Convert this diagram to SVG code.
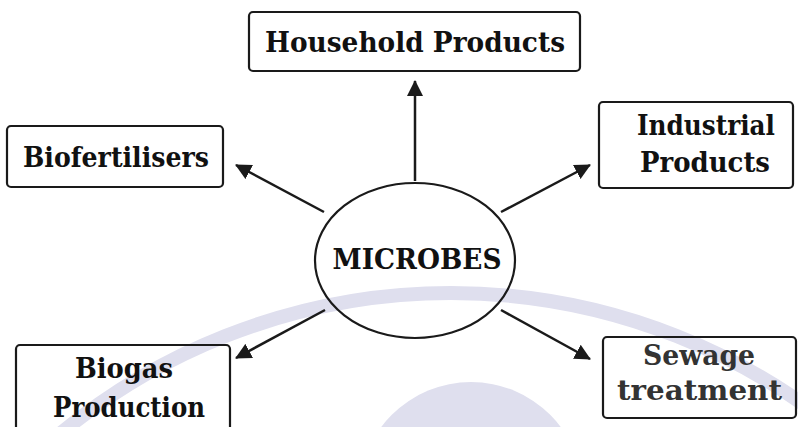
<svg xmlns="http://www.w3.org/2000/svg" width="798" height="427" viewBox="0 0 798 427">
<style>
.box{fill:none;stroke:#1a1a1a;stroke-width:2.2}
.lbl{font-family:"DejaVu Serif","Liberation Serif",serif;font-weight:bold;font-size:28px;fill:#111;text-anchor:middle}
.con{stroke:#1a1a1a;stroke-width:2.5;fill:none;marker-end:url(#ah)}
.wm{fill:none;stroke:#dfdfee;stroke-width:14}
</style>
<defs>
<marker id="ah" markerUnits="userSpaceOnUse" markerWidth="16" markerHeight="16" refX="15" refY="8" orient="auto">
<path d="M0,0 L16,8 L0,16 z" fill="#1a1a1a"/>
</marker>
</defs>
<rect width="798" height="427" fill="#fff"/>
<g id="watermark">
<circle class="wm" cx="451" cy="906" r="613"/>
<circle cx="471" cy="494" r="112" fill="#dfdfee"/>
</g>
<g id="connectors">
<line class="con" x1="415" y1="181" x2="415" y2="81"/>
<line class="con" x1="324" y1="212" x2="236" y2="165"/>
<line class="con" x1="501" y1="212" x2="590" y2="165"/>
<line class="con" x1="325" y1="310" x2="236" y2="358"/>
<line class="con" x1="501" y1="310" x2="590" y2="359"/>
</g>
<g id="microbes">
<ellipse cx="415" cy="260.5" rx="100" ry="77.5" fill="none" stroke="#1a1a1a" stroke-width="2.2"/>
<text class="lbl" x="417" y="269" textLength="169" lengthAdjust="spacingAndGlyphs">MICROBES</text>
</g>
<g id="household">
<rect class="box" x="249" y="12" width="331" height="59" rx="4"/>
<text class="lbl" x="415" y="52" textLength="300" lengthAdjust="spacingAndGlyphs">Household Products</text>
</g>
<g id="biofertilisers">
<rect class="box" x="7" y="126" width="216" height="61" rx="4"/>
<text class="lbl" x="116" y="167" textLength="186" lengthAdjust="spacingAndGlyphs">Biofertilisers</text>
</g>
<g id="industrial">
<rect class="box" x="599" y="102" width="194" height="86" rx="4"/>
<text class="lbl" x="706" y="135" textLength="138" lengthAdjust="spacingAndGlyphs">Industrial</text>
<text class="lbl" x="705" y="172" textLength="130" lengthAdjust="spacingAndGlyphs">Products</text>
</g>
<g id="biogas">
<rect class="box" x="16" y="345" width="214" height="90" rx="4"/>
<text class="lbl" x="124" y="378" textLength="98" lengthAdjust="spacingAndGlyphs">Biogas</text>
<text class="lbl" x="129" y="417" textLength="152" lengthAdjust="spacingAndGlyphs">Production</text>
</g>
<g id="sewage">
<rect class="box" x="603" y="337" width="193" height="81" rx="4"/>
<text class="lbl" x="699" y="365" textLength="112" lengthAdjust="spacingAndGlyphs" style="fill:#333">Sewage</text>
<text class="lbl" x="699.5" y="400" textLength="165" lengthAdjust="spacingAndGlyphs" style="fill:#333">treatment</text>
</g>
</svg>
